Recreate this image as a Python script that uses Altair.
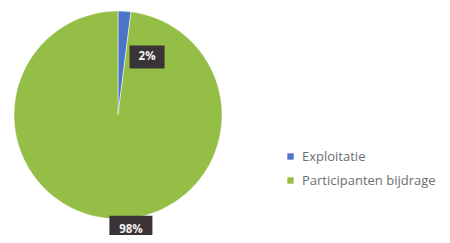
import altair as alt
import pandas as pd

# ---- data ----
categories = ["Exploitatie", "Participanten bijdrage"]
values = [2, 98]
labels = ["2%", "98%"]

# ---- label placement style (relative to pie radius / slice middle) ----
label_radius = [0.624, 1.113]
label_rotate = [23.0, -10.0]

colors = ["#4A74C8", "#94BE45"]

df = pd.DataFrame({
    "cat": categories,
    "value": values,
    "label": labels,
    "order": list(range(len(categories))),
    "lr": label_radius,
    "rot": label_rotate,
})

xs = alt.Scale(domain=[-1, 1], range=[6, 214])
ys = alt.Scale(domain=[-1, 1], range=[211, 3])

base = alt.Chart(df)

pie = base.mark_arc(outerRadius=104, stroke="#ffffff", strokeWidth=0.5).encode(
    theta=alt.Theta("value:Q", stack=True),
    order=alt.Order("order:Q"),
    color=alt.Color(
        "cat:N",
        scale=alt.Scale(domain=categories, range=colors),
        legend=alt.Legend(
            title=None,
            orient="none",
            legendX=276,
            legendY=142,
            symbolType="square",
            symbolSize=40,
            symbolStrokeWidth=0,
            labelFont="Open Sans",
            labelFontSize=13,
            labelColor="#6e6e6e",
            labelLimit=300,
            rowPadding=10,
            padding=0,
            labelOffset=5,
        ),
    ),
    x=alt.X(datum=0, scale=xs, axis=None),
    y=alt.Y(datum=0, scale=ys, axis=None),
)

lab = base.transform_window(
    cum="sum(value)", sort=[alt.SortField("order")]
).transform_joinaggregate(
    total="sum(value)"
).transform_calculate(
    mid="((datum.cum - datum.value/2) / datum.total) * 2 * PI + datum.rot * PI / 180",
).transform_calculate(
    lx="datum.lr * sin(datum.mid)",
    ly="datum.lr * cos(datum.mid)",
    boxsize="pow(8 * length(datum.label) + 19, 2)",
)

boxes = lab.mark_point(
    shape="M-1,-0.66L1,-0.66L1,0.66L-1,0.66Z",
    filled=True,
    color="#3b3436",
    opacity=1,
).encode(
    x=alt.X("lx:Q", scale=xs, axis=None),
    y=alt.Y("ly:Q", scale=ys, axis=None),
    size=alt.Size("boxsize:Q", scale=None, legend=None),
)

texts = lab.mark_text(
    font="Open Sans", fontSize=11.5, fontWeight="bold", color="#f2f2f2"
).encode(
    x=alt.X("lx:Q", scale=xs, axis=None),
    y=alt.Y("ly:Q", scale=ys, axis=None),
    text="label:N",
)

chart = alt.layer(pie, boxes, texts).properties(
    width=434,
    height=227,
    padding=0,
    autosize=alt.AutoSizeParams(type="none"),
).configure(background="#ffffff", view=alt.ViewConfig(stroke=None))

chart.save("out.html", embed_options={"renderer": "svg", "actions": False})
